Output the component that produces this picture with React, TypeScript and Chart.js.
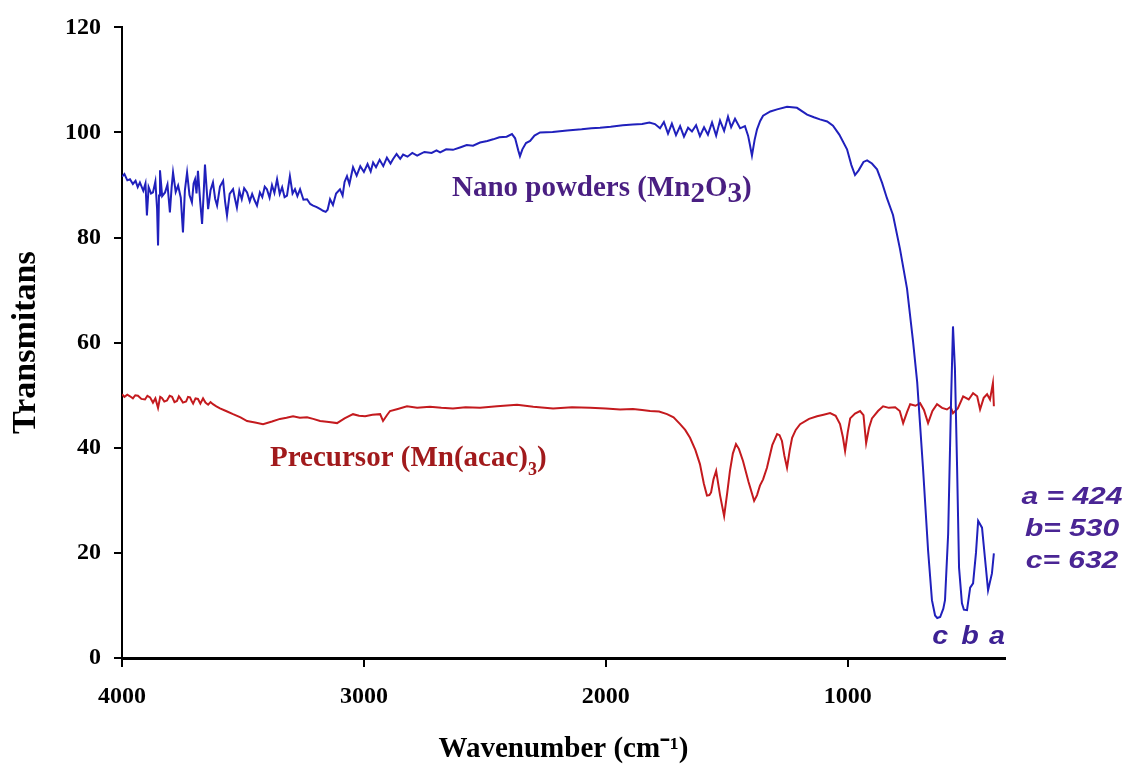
import React, { useEffect, useRef } from "react";
import { Chart, registerables } from "chart.js";

Chart.register(...registerables);

// ---- data ----
const xTickValues = [4000, 3000, 2000, 1000];
const yTickValues = [0, 20, 40, 60, 80, 100, 120];

const nanoWave = [
  4000, 3990, 3978, 3967, 3955, 3944, 3935, 3926, 3912, 3903, 3897, 3890, 3880, 3872, 3862, 3855, 3851, 3847, 3843, 3834,
  3822, 3812, 3802, 3795, 3789, 3778, 3768, 3757, 3748, 3740, 3731, 3721, 3711, 3704, 3698, 3692, 3686, 3677, 3669, 3662,
  3657, 3650, 3644, 3634, 3624, 3615, 3607, 3595, 3582, 3574, 3566, 3555, 3541, 3533, 3525, 3515, 3505, 3495, 3483, 3472,
  3462, 3452, 3442, 3430, 3420, 3410, 3401, 3390, 3380, 3370, 3359, 3348, 3338, 3328, 3318, 3306, 3295, 3285, 3275, 3264,
  3250, 3235, 3222, 3210, 3195, 3180, 3169, 3158, 3150, 3140, 3128, 3115, 3099, 3088, 3080, 3070, 3060, 3045, 3030, 3015,
  3000, 2985, 2972, 2962, 2950, 2935, 2920, 2905, 2890, 2880, 2865, 2850, 2838, 2820, 2800, 2780, 2768, 2750, 2720, 2700,
  2685, 2660, 2632, 2600, 2575, 2549, 2520, 2490, 2466, 2440, 2410, 2388, 2375, 2362, 2355, 2345, 2330, 2313, 2295, 2272,
  2220, 2160, 2100, 2060, 2024, 1980, 1930, 1888, 1850, 1820, 1797, 1776, 1760, 1743, 1727, 1710, 1693, 1677, 1660, 1644,
  1627, 1611, 1594, 1578, 1561, 1544, 1528, 1511, 1495, 1482, 1466, 1445, 1425, 1412, 1405, 1396, 1385, 1375, 1362, 1350,
  1320, 1292, 1251, 1210, 1168, 1140, 1115, 1085, 1061, 1035, 1003, 985, 970, 955, 935, 920, 900, 879, 858, 838,
  813, 784, 755, 730, 713, 689, 668, 652, 639, 630, 618, 605, 598, 585, 573, 565, 557, 548, 540, 528,
  520, 507, 494, 482, 470, 461, 445, 432, 420, 404, 396,
];
const nanoT = [
  91.6, 92.1, 90.9, 91.1, 90.2, 90.8, 89.6, 90.5, 88.9, 90.3, 84.2, 89.6, 88.4, 88.6, 90.7, 85.5, 78.5, 88.0, 92.8, 87.9,
  88.6, 90.1, 84.8, 89.5, 92.4, 88.7, 89.9, 87.6, 81.0, 89.0, 92.4, 88.1, 86.7, 90.3, 91.1, 88.4, 92.7, 87.0, 82.6, 88.8,
  93.9, 89.2, 85.4, 89.0, 90.5, 87.4, 86.1, 89.7, 90.8, 86.9, 84.2, 88.3, 89.2, 87.4, 85.7, 88.9, 87.3, 89.4, 88.6, 86.9,
  88.3, 87.1, 86.1, 88.6, 87.7, 89.7, 89.2, 87.6, 90.0, 88.5, 91.1, 88.3, 89.6, 87.7, 88.0, 91.7, 88.4, 89.2, 87.9, 89.2,
  87.2, 87.3, 86.4, 86.1, 85.8, 85.4, 85.1, 84.9, 85.3, 87.3, 86.2, 88.4, 89.2, 88.0, 90.6, 91.7, 90.2, 93.4, 91.8, 93.6,
  92.5, 94.0, 92.6, 94.3, 93.4, 94.8, 93.6, 95.2, 94.1, 94.9, 95.9, 95.0, 95.8, 95.4, 96.1, 95.6, 95.9, 96.3, 96.1, 96.6,
  96.2, 96.8, 96.7, 97.2, 97.6, 97.5, 98.1, 98.4, 98.7, 99.1, 99.2, 99.7, 98.9, 96.6, 95.5, 96.8, 98.0, 98.4, 99.4, 100.0,
  100.1, 100.4, 100.6, 100.8, 100.9, 101.1, 101.4, 101.5, 101.6, 101.9, 101.6, 100.8, 102.0, 99.8, 101.7, 99.5, 101.2, 99.2, 100.9, 100.2,
  101.4, 99.3, 101.0, 99.6, 101.9, 99.4, 102.3, 100.3, 103.0, 101.0, 102.6, 100.8, 101.2, 99.4, 97.8, 95.6, 98.6, 100.6, 102.2, 103.2,
  104.0, 104.4, 104.9, 104.7, 103.4, 102.9, 102.5, 102.1, 101.3, 99.6, 96.8, 93.8, 91.9, 92.8, 94.4, 94.7, 94.1, 93.0, 90.4, 87.5,
  84.3, 77.8, 70.3, 60.2, 52.5, 36.2, 20.5, 11.0, 8.1, 7.6, 7.8, 9.4, 11.0, 23.6, 48.9, 63.1, 55.1, 36.2, 17.2, 10.4,
  9.2, 9.1, 13.4, 14.2, 20.0, 26.1, 24.8, 18.6, 12.9, 16.1, 19.9,
];

const precWave = [
  4000, 3990, 3978, 3967, 3955, 3945, 3934, 3920, 3905, 3895, 3884, 3872, 3862, 3851, 3842, 3835, 3825, 3814, 3803, 3793,
  3783, 3773, 3765, 3760, 3748, 3735, 3727, 3719, 3712, 3706, 3696, 3686, 3676, 3665, 3655, 3644, 3634, 3624, 3610, 3595,
  3570, 3541, 3510, 3483, 3450, 3417, 3380, 3347, 3320, 3293, 3265, 3235, 3210, 3181, 3145, 3111, 3080, 3045, 3020, 2995,
  2965, 2933, 2921, 2905, 2892, 2860, 2822, 2780, 2727, 2680, 2632, 2580, 2520, 2450, 2367, 2300, 2218, 2140, 2065, 2000,
  1941, 1888, 1850, 1817, 1780, 1747, 1720, 1693, 1672, 1652, 1630, 1611, 1595, 1582, 1572, 1565, 1555, 1544, 1528, 1511,
  1498, 1487, 1475, 1462, 1450, 1433, 1410, 1387, 1375, 1363, 1350, 1334, 1312, 1292, 1282, 1272, 1262, 1251, 1240, 1230,
  1215, 1197, 1160, 1127, 1100, 1073, 1050, 1032, 1020, 1011, 1000, 990, 970, 949, 935, 924, 912, 900, 875, 854,
  830, 804, 785, 771, 755, 742, 720, 701, 685, 668, 650, 631, 610, 590, 575, 565, 545, 523, 500, 482,
  465, 453, 438, 424, 412, 400, 396,
];
const precT = [
  50.2, 49.7, 50.1, 49.8, 49.4, 50.0, 49.9, 49.3, 49.2, 49.9, 49.6, 48.6, 49.4, 47.6, 49.7, 49.5, 48.8, 49.0, 49.9, 49.7,
  48.7, 48.9, 49.8, 49.5, 48.6, 48.8, 49.7, 49.6, 48.9, 48.4, 49.4, 49.3, 48.4, 49.4, 48.6, 48.2, 48.7, 48.3, 47.9, 47.5,
  47.0, 46.4, 45.8, 45.1, 44.8, 44.5, 45.0, 45.5, 45.7, 46.0, 45.7, 45.8, 45.5, 45.1, 44.9, 44.7, 45.6, 46.4, 46.1, 46.0,
  46.3, 46.4, 45.1, 46.2, 47.0, 47.4, 47.9, 47.6, 47.8, 47.6, 47.5, 47.7, 47.6, 47.9, 48.2, 47.8, 47.5, 47.7, 47.6, 47.5,
  47.3, 47.4, 47.2, 47.0, 46.9, 46.4, 45.8, 44.5, 43.4, 41.9, 39.6, 36.9, 33.2, 30.9, 31.0, 31.5, 34.0, 35.6, 31.0, 27.0,
  31.5, 35.6, 38.9, 40.7, 39.8, 37.5, 33.5, 29.9, 31.0, 32.8, 34.0, 36.2, 40.5, 42.6, 42.4, 41.3, 38.5, 36.2, 39.5, 41.9,
  43.4, 44.5, 45.5, 46.0, 46.3, 46.6, 46.1, 44.5, 42.0, 39.4, 43.0, 45.6, 46.5, 47.0, 46.2, 40.9, 43.8, 45.6, 47.0, 47.9,
  47.6, 47.7, 47.0, 44.7, 46.8, 48.3, 48.0, 48.5, 47.2, 44.7, 47.0, 48.3, 47.6, 47.3, 47.8, 46.6, 47.5, 49.8, 49.2, 50.4,
  49.8, 47.3, 49.5, 50.2, 49.2, 52.3, 47.9,
];

const xTitleText = "Wavenumber (cm⁻¹)";
const yTitleText = "Transmitans";
const peakNotes = ["a = 424", "b= 530", "c= 632"];
const peakLetters = [
  { text: "c", wave: 618 },
  { text: "b", wave: 495 },
  { text: "a", wave: 383 },
];

const SERIF = "'Liberation Serif', 'Times New Roman', serif";
const SANS = "'Liberation Sans', Arial, sans-serif";

type Part = { text: string; font: string; dy: number };

function drawParts(ctx: CanvasRenderingContext2D, x: number, y: number, parts: Part[], color: string) {
  ctx.fillStyle = color;
  ctx.textBaseline = "alphabetic";
  ctx.textAlign = "left";
  let cx = x;
  for (const p of parts) {
    ctx.font = p.font;
    ctx.fillText(p.text, cx, y + p.dy);
    cx += ctx.measureText(p.text).width;
  }
}

const labelPlugin = {
  id: "ftirLabels",
  afterDatasetsDraw(chart: any) {
    const { ctx, scales } = chart;
    const xs = scales.x;
    const ys = scales.y;
    ctx.save();
    // Nano powders label
    const nf = `bold 29px ${SERIF}`;
    drawParts(
      ctx,
      xs.getPixelForValue(2636),
      ys.getPixelForValue(88),
      [
        { text: "Nano powders (Mn", font: nf, dy: 0 },
        { text: "2", font: nf, dy: 6 },
        { text: "O", font: nf, dy: 0 },
        { text: "3", font: nf, dy: 6 },
        { text: ")", font: nf, dy: 0 },
      ],
      "#4a1f82"
    );
    // Precursor label
    const pf = `bold 29px ${SERIF}`;
    drawParts(
      ctx,
      xs.getPixelForValue(3388),
      ys.getPixelForValue(36.5),
      [
        { text: "Precursor (Mn(acac)", font: pf, dy: 0 },
        { text: "3", font: `bold 18px ${SERIF}`, dy: 9 },
        { text: ")", font: pf, dy: 0 },
      ],
      "#a11a1c"
    );
    // peak notes on the right
    ctx.fillStyle = "#4a2594";
    ctx.font = `italic bold 24px ${SANS}`;
    ctx.textAlign = "center";
    ctx.textBaseline = "middle";
    const noteY = [497, 529, 561];
    peakNotes.forEach((t, i) => {
      ctx.save();
      ctx.translate(1072, noteY[i]);
      ctx.scale(1.25, 1);
      ctx.fillText(t, 0, 0);
      ctx.restore();
    });
    // peak letters
    ctx.font = `italic bold 25px ${SANS}`;
    ctx.fillStyle = "#3d2194";
    peakLetters.forEach((p) => {
      ctx.save();
      ctx.translate(xs.getPixelForValue(p.wave), ys.getPixelForValue(4));
      ctx.scale(1.15, 1);
      ctx.fillText(p.text, 0, 0);
      ctx.restore();
    });
    ctx.restore();
  },
};

export default function App() {
  const canvasRef = useRef<HTMLCanvasElement | null>(null);

  useEffect(() => {
    document.body.style.margin = "0";
    const canvas = canvasRef.current;
    if (!canvas) return;
    const chart = new Chart(canvas, {
      type: "line",
      data: {
        datasets: [
          {
            label: "Nano powders (Mn2O3)",
            data: nanoWave.map((w, i) => ({ x: w, y: nanoT[i] })),
            borderColor: "#2020bc",
            borderWidth: 2,
            pointRadius: 0,
            tension: 0,
            fill: false,
          },
          {
            label: "Precursor (Mn(acac)3)",
            data: precWave.map((w, i) => ({ x: w, y: precT[i] })),
            borderColor: "#c41a1e",
            borderWidth: 2,
            pointRadius: 0,
            tension: 0,
            fill: false,
          },
        ],
      },
      options: {
        animation: false,
        responsive: true,
        maintainAspectRatio: false,
        layout: { padding: { left: 0, top: 24, right: 121, bottom: 0 } },
        plugins: {
          legend: { display: false },
          tooltip: { enabled: false },
        },
        scales: {
          x: {
            type: "linear",
            reverse: true,
            min: 350,
            max: 4000,
            afterBuildTicks: (s: any) => {
              s.ticks = xTickValues.map((v) => ({ value: v }));
            },
            afterFit: (s: any) => {
              s.height = 107;
            },
            border: { display: true, color: "#000", width: 3 },
            grid: { display: true, drawOnChartArea: false, drawTicks: true, tickLength: 9, color: "#000", lineWidth: 2 },
            ticks: {
              color: "#000",
              padding: 15,
              maxRotation: 0,
              autoSkip: false,
              font: { family: SERIF, size: 24, weight: "bold" },
              callback: (v: any) => String(v),
            },
            title: {
              display: true,
              text: xTitleText,
              color: "#000",
              font: { family: SERIF, size: 29, weight: "bold", lineHeight: 1 },
              padding: { top: 0, bottom: 1 },
            },
          },
          y: {
            type: "linear",
            min: 0,
            max: 120,
            afterBuildTicks: (s: any) => {
              s.ticks = yTickValues.map((v) => ({ value: v }));
            },
            afterFit: (s: any) => {
              s.width = 122;
            },
            border: { display: true, color: "#000", width: 2 },
            grid: { display: true, drawOnChartArea: false, drawTicks: true, tickLength: 8, color: "#000", lineWidth: 2 },
            ticks: {
              color: "#000",
              padding: 13,
              autoSkip: false,
              font: { family: SERIF, size: 24, weight: "bold" },
            },
            title: {
              display: true,
              text: yTitleText,
              color: "#000",
              font: { family: SERIF, size: 34, weight: "bold", lineHeight: 1.2 },
              padding: { top: 6, bottom: 0 },
            },
          },
        },
      },
      plugins: [labelPlugin],
    });
    return () => chart.destroy();
  }, []);

  return (
    <div style={{ position: "fixed", left: 0, top: 0, width: 1126, height: 765, background: "#fff" }}>
      <canvas ref={canvasRef} />
    </div>
  );
}
